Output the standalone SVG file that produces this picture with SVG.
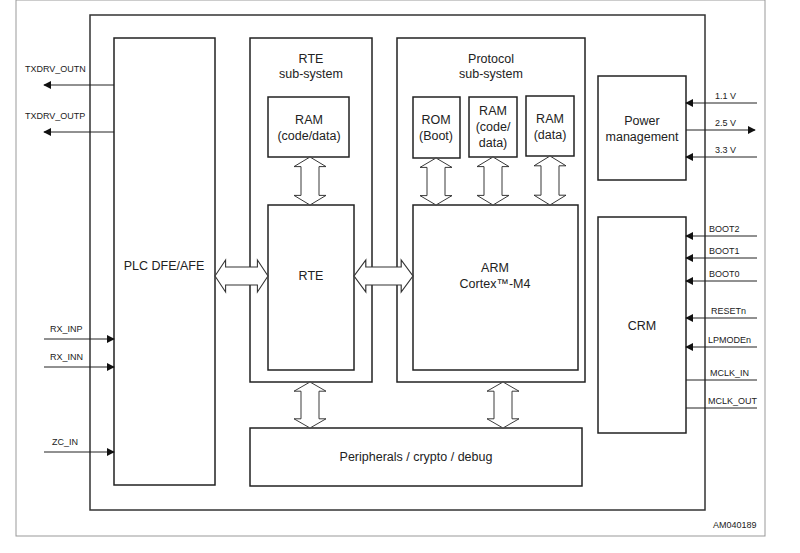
<svg xmlns="http://www.w3.org/2000/svg" width="800" height="553" viewBox="0 0 800 553">
<style>
.b{fill:#fff;stroke:#222;stroke-width:1.5}
.t{font-family:"Liberation Sans",Arial,sans-serif;font-size:12.5px;fill:#222;text-anchor:middle}
.p{font-family:"Liberation Sans",Arial,sans-serif;font-size:9px;fill:#222}
.l{stroke:#222;stroke-width:1;fill:none}
.ba{fill:#fff;stroke:#333;stroke-width:1}
</style>
<defs>
<marker id="a" viewBox="0 0 10 10" refX="9" refY="5" markerWidth="8" markerHeight="8" orient="auto"><path d="M0,0L10,5L0,10z" fill="#111"/></marker>
<path id="h" d="M0,0 L10,-16 L10,-9 L40,-9 L40,-16 L50,0 L40,16 L40,9 L10,9 L10,16 Z"/>
</defs>
<rect x="16" y="0" width="749" height="536" fill="#fff" stroke="#999"/>
<rect x="90" y="15" width="615" height="495" fill="#fff" stroke="#333" stroke-width="1.5"/>
<g id="plc"><rect class="b" x="114" y="38" width="101" height="447"/><text class="t" x="164" y="270">PLC DFE/AFE</text></g>
<g id="rtesub"><rect class="b" x="250" y="38" width="122" height="344"/><text class="t" x="311" y="63">RTE</text><text class="t" x="311" y="78">sub-system</text></g>
<g id="ram1"><rect class="b" x="268" y="97" width="81" height="60"/><text class="t" x="309" y="124">RAM</text><text class="t" x="309" y="140">(code/data)</text></g>
<g id="rte"><rect class="b" x="268" y="205" width="86" height="165"/><text class="t" x="311" y="280">RTE</text></g>
<g id="protosub"><rect class="b" x="397" y="38" width="188" height="344"/><text class="t" x="491" y="63">Protocol</text><text class="t" x="491" y="78">sub-system</text></g>
<g id="rom"><rect class="b" x="413" y="97" width="47" height="61"/><text class="t" x="436" y="124">ROM</text><text class="t" x="436" y="140">(Boot)</text></g>
<g id="ram2"><rect class="b" x="469" y="97" width="48" height="60"/><text class="t" x="493" y="115">RAM</text><text class="t" x="493" y="131">(code/</text><text class="t" x="493" y="147">data)</text></g>
<g id="ram3"><rect class="b" x="526" y="96" width="48" height="60"/><text class="t" x="550" y="123">RAM</text><text class="t" x="550" y="139">(data)</text></g>
<g id="arm"><rect class="b" x="413" y="205" width="165" height="165"/><text class="t" x="495" y="272">ARM</text><text class="t" x="495" y="288">Cortex™-M4</text></g>
<g id="power"><rect class="b" x="598" y="76" width="88" height="104"/><text class="t" x="642" y="125">Power</text><text class="t" x="642" y="141">management</text></g>
<g id="crm"><rect class="b" x="598" y="217" width="88" height="216"/><text class="t" x="642" y="330">CRM</text></g>
<g id="periph"><rect class="b" x="250" y="428" width="332" height="58"/><text class="t" x="416" y="461">Peripherals / crypto / debug</text></g>
<g id="connectors">
<use href="#h" class="ba" transform="translate(215,276) scale(1.06,1)"/>
<use href="#h" class="ba" transform="translate(354,276) scale(1.18,1)"/>
<use href="#h" class="ba" transform="translate(310,157) rotate(90) scale(0.96,1)"/>
<use href="#h" class="ba" transform="translate(436,158) rotate(90) scale(0.94,1)"/>
<use href="#h" class="ba" transform="translate(493,157) rotate(90) scale(0.96,1)"/>
<use href="#h" class="ba" transform="translate(550,156) rotate(90) scale(0.98,1)"/>
<use href="#h" class="ba" transform="translate(310,382) rotate(90) scale(0.92,1)"/>
<use href="#h" class="ba" transform="translate(503,382) rotate(90) scale(0.92,1)"/>
<line class="l" x1="114" y1="85" x2="44" y2="85" marker-end="url(#a)"/>
<line class="l" x1="114" y1="132" x2="44" y2="132" marker-end="url(#a)"/>
<line class="l" x1="44" y1="339" x2="114" y2="339" marker-end="url(#a)"/>
<line class="l" x1="44" y1="367" x2="114" y2="367" marker-end="url(#a)"/>
<line class="l" x1="44" y1="452" x2="114" y2="452" marker-end="url(#a)"/>
<line class="l" x1="757" y1="103" x2="686" y2="103" marker-end="url(#a)"/>
<line class="l" x1="686" y1="130" x2="755" y2="130" marker-end="url(#a)"/>
<line class="l" x1="757" y1="157" x2="686" y2="157" marker-end="url(#a)"/>
<line class="l" x1="757" y1="236" x2="686" y2="236" marker-end="url(#a)"/>
<line class="l" x1="757" y1="258" x2="686" y2="258" marker-end="url(#a)"/>
<line class="l" x1="757" y1="281" x2="686" y2="281" marker-end="url(#a)"/>
<line class="l" x1="757" y1="318" x2="686" y2="318" marker-end="url(#a)"/>
<line class="l" x1="757" y1="347" x2="686" y2="347" marker-end="url(#a)"/>
<line class="l" x1="757" y1="380" x2="686" y2="380"/>
<line class="l" x1="757" y1="408" x2="686" y2="408"/>
</g>
<g class="p">
<text x="25" y="72">TXDRV_OUTN</text>
<text x="25" y="119">TXDRV_OUTP</text>
<text x="50" y="332">RX_INP</text>
<text x="50" y="360">RX_INN</text>
<text x="52" y="445">ZC_IN</text>
<text x="715" y="99">1.1 V</text>
<text x="715" y="126">2.5 V</text>
<text x="715" y="153">3.3 V</text>
<text x="709" y="232">BOOT2</text>
<text x="709" y="254">BOOT1</text>
<text x="709" y="277">BOOT0</text>
<text x="711" y="314">RESETn</text>
<text x="708" y="343">LPMODEn</text>
<text x="710" y="376">MCLK_IN</text>
<text x="708" y="404">MCLK_OUT</text>
<text x="713" y="528">AM040189</text>
</g>
</svg>
